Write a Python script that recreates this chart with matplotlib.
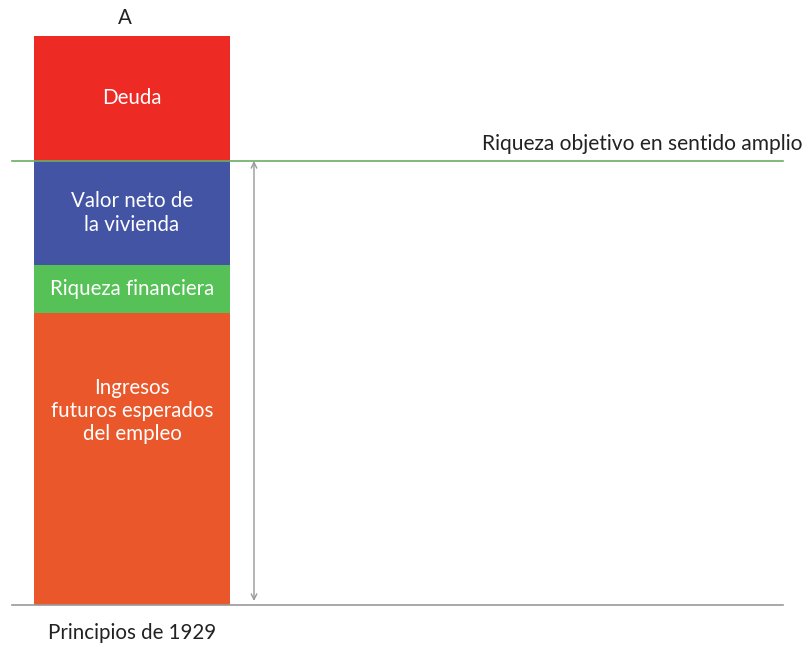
import matplotlib.pyplot as plt
import numpy as np

plt.rcParams['font.family'] = ['Lato', 'DejaVu Sans']

# segments from bottom to top
segments = ['Ingresos\nfuturos esperados\ndel empleo', 'Riqueza financiera',
            'Valor neto de\nla vivienda', 'Deuda']
values = [292, 48, 104, 125]
colors = ['#EA572A', '#55C156', '#4354A5', '#EE2A24']

bar_label = 'A'
period_label = 'Principios de 1929'
target_label = 'Riqueza objetivo en sentido amplio'
target_value = sum(values[:3])

fig = plt.figure(figsize=(8.1, 6.64), dpi=100)
ax = fig.add_axes([0, 0, 1, 1])
ax.set_xlim(0, 810)
ax.set_ylim(-59, 605)
ax.axis('off')

bar_x = 132
bar_width = 196
bottom = 0
for name, val, col in zip(segments, values, colors):
    ax.bar(bar_x, val, width=bar_width, bottom=bottom, color=col, linewidth=0)
    cy = bottom + val / 2
    if name.startswith('Ingresos'):
        cy = bottom + val * 0.665  # label sits above the middle
    ax.text(bar_x, cy, name, ha='center', va='center', color='white',
            fontsize=14.8, linespacing=1.2)
    bottom += val

# baseline and target line
ax.plot([12, 783], [0, 0], color='#999999', lw=1.2)
ax.plot([12, 783], [target_value, target_value], color='#6AAE64', lw=1.2)

# double arrow
ax.annotate('', xy=(254, 4), xytext=(254, target_value),
            arrowprops=dict(arrowstyle='<->', color='#999999', lw=1.0,
                            shrinkA=0, shrinkB=0, mutation_scale=10))

ax.text(bar_x - 7, bottom + 18, bar_label, ha='center', va='center', fontsize=14.8, color='#222222')
ax.text(bar_x, -28, period_label, ha='center', va='center', fontsize=14.8, color='#222222')
ax.text(802, target_value + 17, target_label, ha='right', va='center', fontsize=15.1, color='#222222')

fig.savefig('out.png', dpi=100)
